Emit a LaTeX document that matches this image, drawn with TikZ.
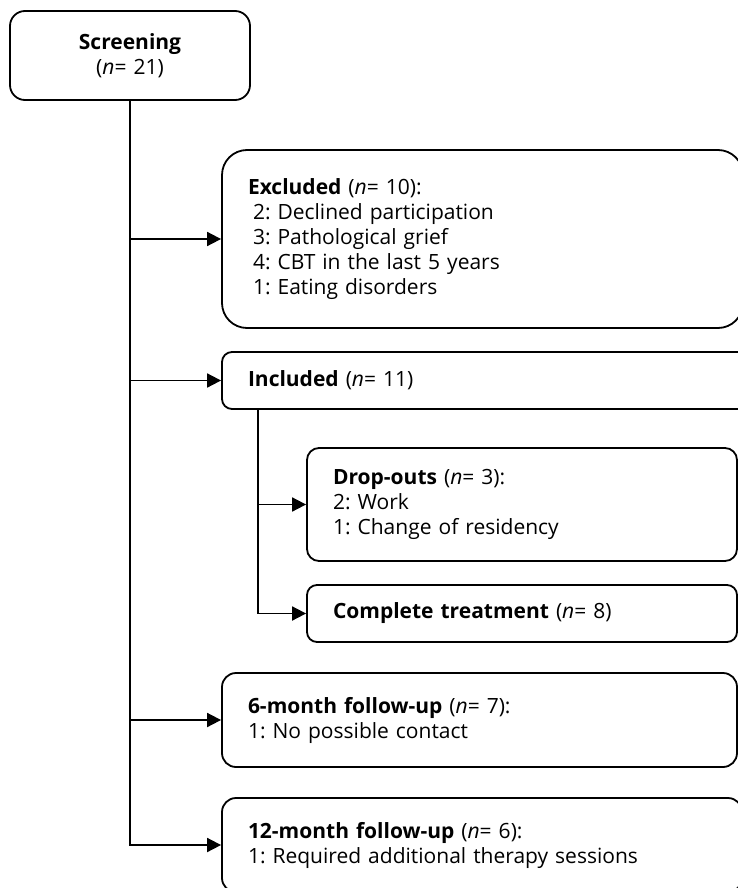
\documentclass[tikz,border=0pt]{standalone}
\usepackage{fontspec}
\setmainfont{Open Sans}
\usetikzlibrary{arrows.meta, positioning}
\frenchspacing

\begin{document}
\begin{tikzpicture}[x=1pt, y=-1pt, >={Triangle[length=14pt, width=14pt]},
    box/.style={draw, line width=1.8pt, inner xsep=26pt, align=left,
                font=\fontsize{21}{25}\selectfont},
    flow/.style={->, line width=1.8pt}]
  \useasboundingbox (0,0) rectangle (738,888);
  \clip (0,0) rectangle (738,888);

  % Screening
  \node[box, rounded corners=15pt, align=center, text width=188pt,
        minimum height=89pt] (screen) at (130, 55.5)
        {\textbf{Screening}\\(\textit{n}= 21)};

  % First level boxes
  \node[box, rounded corners=25pt, text width=469pt,
        minimum height=178pt] (excl) at (482.5, 239)
        {\textbf{Excluded} (\textit{n}= 10):\\
         \hspace*{5pt}2: Declined participation\\
         \hspace*{5pt}3: Pathological grief\\
         \hspace*{5pt}4: CBT in the last 5 years\\
         \hspace*{5pt}1: Eating disorders};
  \node[box, rounded corners=10pt, text width=474pt,
        minimum height=57pt] (incl) at (485, 380.5)
        {\textbf{Included} (\textit{n}= 11)};

  % Included branch
  \node[box, rounded corners=12pt, text width=378pt,
        minimum height=113pt] (drop) at (522, 504.5)
        {\textbf{Drop-outs} (\textit{n}= 3):\\
         2: Work\\
         1: Change of residency};
  \node[box, rounded corners=10pt, text width=378pt,
        minimum height=57pt] (compl) at (522, 613.5)
        {\textbf{Complete treatment} (\textit{n}= 8)};

  % Follow-ups
  \node[box, rounded corners=14pt, text width=463pt,
        minimum height=94pt] (six) at (479.5, 720)
        {\textbf{6-month follow-up} (\textit{n}= 7):\\
         1: No possible contact};
  \node[box, rounded corners=14pt, text width=468pt,
        minimum height=94pt] (twelve) at (482, 845)
        {\textbf{12-month follow-up} (\textit{n}= 6):\\
         1: Required additional therapy sessions};

  % Main line
  \draw[flow] (screen.south) |- (twelve.west);
  \draw[flow] (screen.south |- excl.west) -- (excl.west);
  \draw[flow] (screen.south |- incl.west) -- (incl.west);
  \draw[flow] (screen.south |- six.west) -- (six.west);

  % Included line
  \coordinate (ibranch) at ([xshift=37pt]incl.south west);
  \draw[flow] (ibranch) |- (compl.west);
  \draw[flow] (ibranch |- drop.west) -- (drop.west);
\end{tikzpicture}
\end{document}
